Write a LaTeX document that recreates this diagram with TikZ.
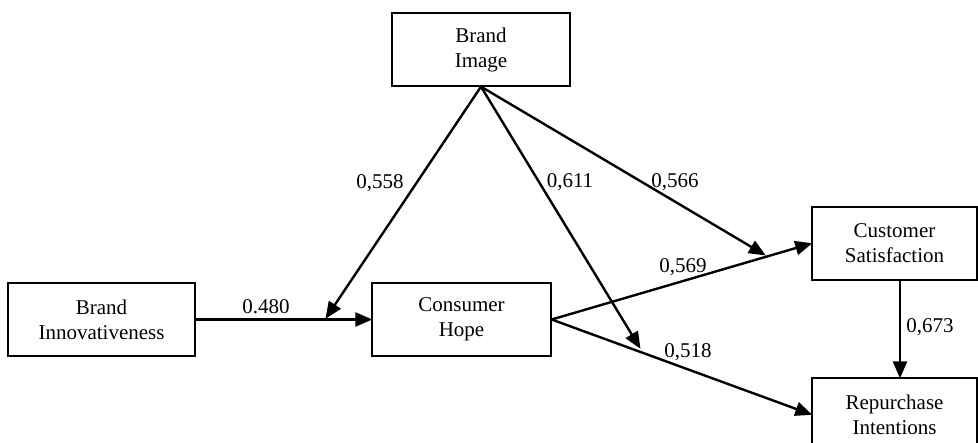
\documentclass[tikz,border=0pt]{standalone}
\usepackage{fontspec}
\setmainfont{Liberation Serif}
\usetikzlibrary{arrows.meta,calc}
\begin{document}
\begin{tikzpicture}[x=1pt,y=-1pt,
  box/.style={draw,line width=1.3pt,rectangle,align=center,inner sep=0pt,
    minimum height=73pt,font=\fontsize{21}{25}\selectfont},
  arr/.style={line width=2.4pt,-{Triangle[length=17pt,width=14pt]},shorten >=-1pt},
  lbl/.style={font=\fontsize{21}{25}\selectfont,inner sep=0pt}]
\useasboundingbox (0,0) rectangle (978,443);
\fill[white] (0,0) rectangle (978,443);
\node[box,minimum width=178pt] (BI) at (481,49.5) {Brand\\Image};
\node[box,minimum width=187pt] (BN) at (101.5,319.5) {Brand\\Innovativeness};
\node[box,minimum width=179pt] (CH) at (461.5,319.5) {Consumer\\Hope};
\node[box,minimum width=165pt] (CS) at (894.5,243.5) {Customer\\Satisfaction};
\node[box,minimum width=165pt] (RI) at (894.5,414.5) {Repurchase\\Intentions};
\coordinate (t558) at (326,318);
\coordinate (t611) at (640,348);
\coordinate (t566) at (765,255);
\draw[arr] (BN.east) -- (CH.west);
\draw[arr] (BI.south) -- (t558);
\draw[arr] (BI.south) -- (t611);
\draw[arr] (BI.south) -- (t566);
\draw[arr] (CH.east) -- (CS.west);
\draw[arr] (CH.east) -- (RI.west);
\draw[arr] ($(CS.south)+(5.5,0)$) -- ($(RI.north)+(5.5,0)$);
\node[lbl] at (380,183) {0,558};
\node[lbl] at (570,182) {0,611};
\node[lbl] at (675,182) {0,566};
\node[lbl] at (266,307) {0.480};
\node[lbl] at (683,267) {0,569};
\node[lbl] at (688,352) {0,518};
\node[lbl] at (930,327) {0,673};
\end{tikzpicture}
\end{document}
